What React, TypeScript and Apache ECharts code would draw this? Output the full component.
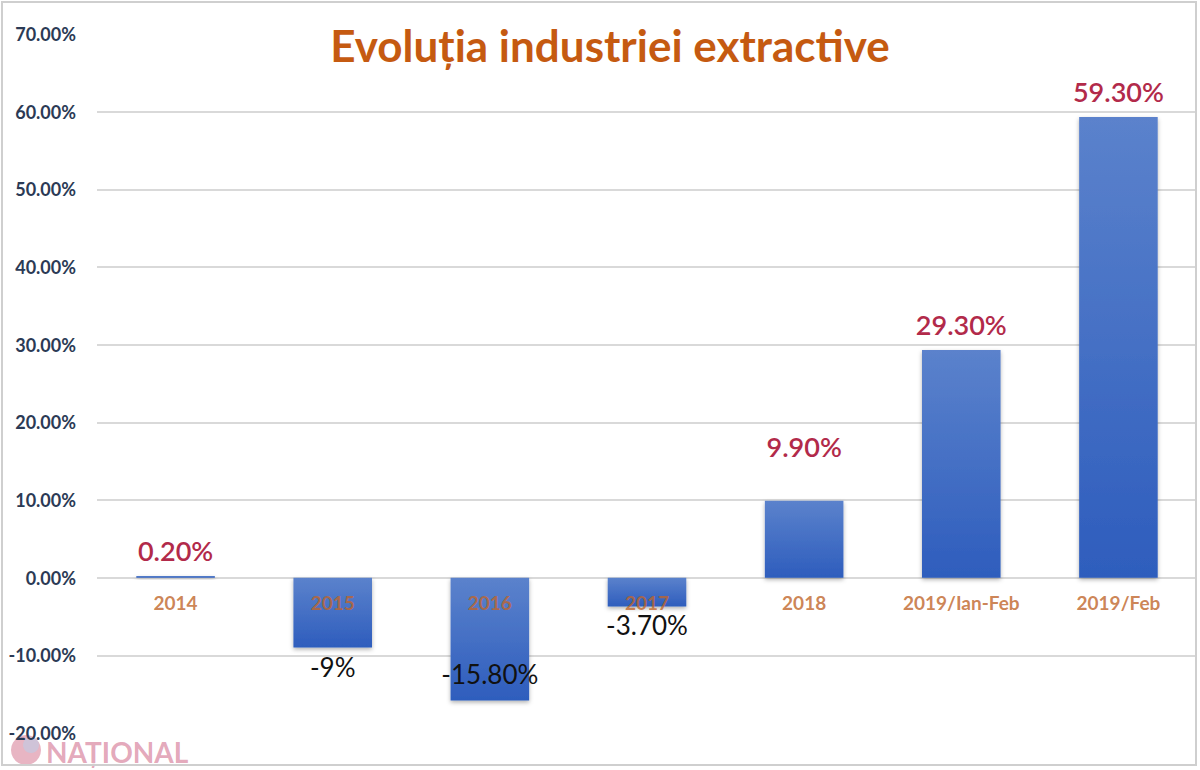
import React, { useEffect, useRef } from "react";
import * as echarts from "echarts";

const categories = ["2014", "2015", "2016", "2017", "2018", "2019/Ian-Feb", "2019/Feb"];
const values = [0.2, -9, -15.8, -3.7, 9.9, 29.3, 59.3];
const valueLabels = ["0.20%", "-9%", "-15.80%", "-3.70%", "9.90%", "29.30%", "59.30%"];
const yMin = -20;
const yMax = 70;
const yStep = 10;

const FONT = "Lato";

export default function App() {
  const ref = useRef<HTMLDivElement>(null);

  useEffect(() => {
    if (!ref.current) return;
    const chart = echarts.init(ref.current, undefined, { renderer: "svg" });

    const lineCount = Math.round((yMax - yMin) / yStep) + 1;
    const splitColors = Array.from({ length: lineCount }, (_, i) =>
      i === 0 || i === lineCount - 1 ? "rgba(0,0,0,0)" : "#d9d9d9"
    );

    const data = values.map((v, i) => {
      const neg = v < 0;
      const cat = categories[i];
      let label: any;
      if (neg) {
        label = {
          show: true,
          position: cat === "2016" ? "insideBottom" : "bottom",
          distance: cat === "2016" ? 13 : 6,
          color: "#111111",
          fontFamily: FONT,
          fontSize: 26,
          fontWeight: "normal",
          formatter: () => valueLabels[i],
        };
      } else {
        label = {
          show: true,
          position: "top",
          distance: 12,
          offset: cat === "2018" ? [0, -29] : [0, 0],
          color: "#b22a4a",
          fontFamily: FONT,
          fontSize: 27,
          fontWeight: 600,
          formatter: () => valueLabels[i],
        };
      }
      return { value: v, label };
    });

    const catLabelData = categories.map((c) => [c, 0]);

    chart.setOption({
      animation: false,
      backgroundColor: "#ffffff",
      title: {
        text: "Evoluția industriei extractive",
        left: 605,
        top: 18,
        textAlign: "center",
        textStyle: {
          color: "#c55a11",
          fontFamily: FONT,
          fontSize: 44,
          fontWeight: "bold",
        },
      },
      grid: { left: 97, right: 3, top: 34, bottom: 37, containLabel: false },
      xAxis: {
        type: "category",
        data: categories,
        axisLine: { show: false },
        axisTick: { show: false },
        axisLabel: { show: false },
      },
      yAxis: {
        type: "value",
        min: yMin,
        max: yMax,
        interval: yStep,
        axisLine: { show: false },
        axisTick: { show: false },
        splitLine: { show: true, lineStyle: { color: splitColors, width: 2 } },
        axisLabel: {
          margin: 21,
          color: "#2b3a55",
          fontFamily: FONT,
          fontSize: 18,
          fontWeight: "bold",
          formatter: (v: number) => v.toFixed(2) + "%",
        },
      },
      series: [
        {
          type: "bar",
          data,
          barWidth: "50%",
          itemStyle: {
            color: new echarts.graphic.LinearGradient(0, 0, 0, 1, [
              { offset: 0, color: "#5b82cc" },
              { offset: 1, color: "#2e5dbd" },
            ]),
            shadowColor: "rgba(0,0,0,0.3)",
            shadowBlur: 4,
            shadowOffsetY: 2,
          },
        },
        {
          type: "scatter",
          data: catLabelData,
          symbolSize: 0,
          z: 10,
          silent: true,
          label: {
            show: true,
            position: "bottom",
            distance: 15,
            color: "#c0652a",
            fontFamily: FONT,
            fontSize: 19,
            fontWeight: "bold",
            formatter: (p: any) => p.value[0],
          },
        },
      ],
      graphic: [
        {
          type: "rect",
          z: 100,
          shape: { x: 2, y: 2, width: 1194, height: 763 },
          style: { fill: "none", stroke: "#cfcfcf", lineWidth: 2 },
        },
        {
          type: "group",
          z: 50,
          children: [
            {
              type: "circle",
              shape: { cx: 26, cy: 750, r: 15 },
              style: { fill: "rgba(214,120,145,0.55)" },
            },
            {
              type: "circle",
              shape: { cx: 31, cy: 745, r: 8 },
              style: { fill: "rgba(190,205,230,0.6)" },
            },
            {
              type: "text",
              x: 46,
              y: 738,
              style: {
                text: "NAȚIONAL",
                fill: "rgba(205,95,130,0.55)",
                fontFamily: FONT,
                fontSize: 28,
                fontWeight: "bold",
              },
            },
          ],
        },
      ],
    });

    return () => chart.dispose();
  }, []);

  return (
    <div
      ref={ref}
      style={{ position: "fixed", left: 0, top: 0, width: 1200, height: 770 }}
    />
  );
}
